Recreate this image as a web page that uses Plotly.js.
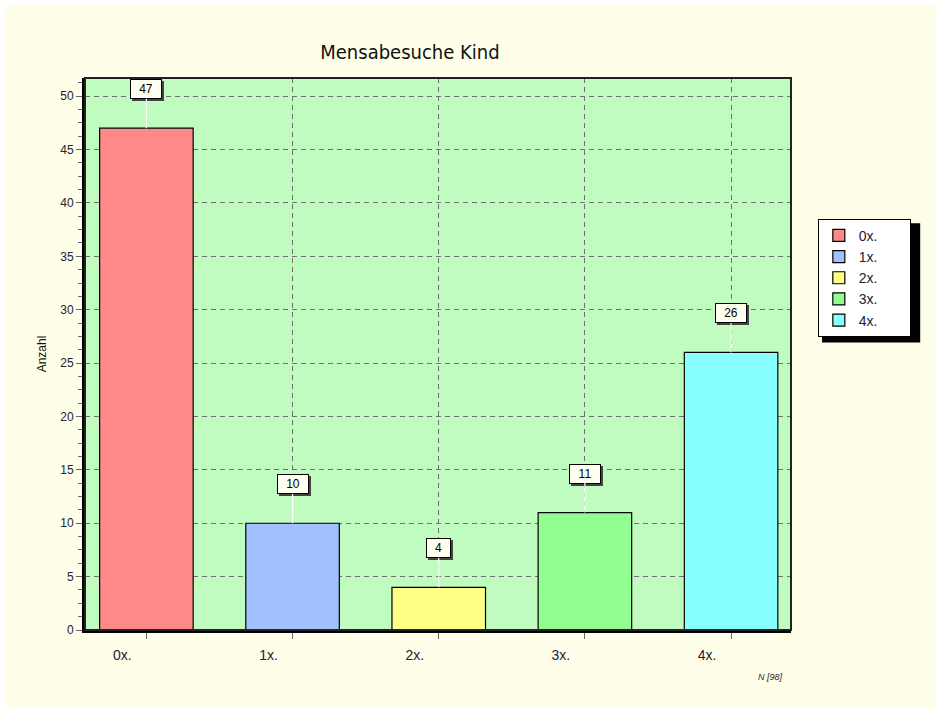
<!DOCTYPE html>
<html><head><meta charset="utf-8">
<script src="https://cdn.plot.ly/plotly-3.0.1.min.js"></script>
<style>
body{margin:0;background:#ffffff}
#bg{position:absolute;left:5px;top:5px;width:931px;height:703px;background:#fffee8}
#chart{position:absolute;left:0;top:0;width:936px;height:708px}
</style>
</head><body>
<div id="bg"></div>
<div id="chart"></div>
<script>
const categories = ["0x.", "1x.", "2x.", "3x.", "4x."];
const counts = [47, 10, 4, 11, 26];
const barColors = ["#ff8888", "#a0c0ff", "#ffff88", "#90ff90", "#88ffff"];
const chartTitle = "Mensabesuche Kind";
const yTitle = "Anzahl";
const footnote = "N [98]";

const pad = "\u00a0".repeat(7);
const traces = categories.map((c, i) => ({
  type: "bar", x: [c], y: [counts[i]], name: c + pad,
  marker: {color: barColors[i], line: {color: "#000", width: 1.2}},
  width: 0.64, hoverinfo: "none"
}));

const annotations = [];
categories.forEach((c, i) => {
  const t = String(counts[i]);
  const w = 7 * t.length + 12;
  annotations.push({x: c, y: counts[i], xref: "x", yref: "y", text: "\u00a0",
    showarrow: true, arrowhead: 0, arrowcolor: "rgba(0,0,0,0)", arrowwidth: 0.1, ax: 2, ay: -37,
    width: w, height: 14,
    bgcolor: "#444", bordercolor: "#444", borderwidth: 1, borderpad: 2,
    font: {family: "Liberation Sans, Arial", size: 12, color: "#444"}});
  annotations.push({x: c, y: counts[i], xref: "x", yref: "y", text: t,
    showarrow: true, arrowhead: 0, arrowcolor: "#ffffff", arrowwidth: 1.2, ax: 0, ay: -39,
    width: w, height: 14,
    bgcolor: "#fffff0", bordercolor: "#000", borderwidth: 1, borderpad: 2,
    font: {family: "Liberation Sans, Arial", size: 12, color: "#000"}});
});
annotations.push({xref: "paper", yref: "paper", x: 0.992, y: -0.085, xanchor: "right", yanchor: "middle",
  text: "<i>" + footnote + "</i>", showarrow: false,
  font: {family: "Liberation Sans, Arial", size: 9, color: "#223"}});

const layout = {
  width: 936, height: 708,
  paper_bgcolor: "rgba(0,0,0,0)", plot_bgcolor: "#c0fcc0",
  margin: {l: 85, r: 145, t: 78, b: 78},
  title: {text: chartTitle, x: 0.438, xanchor: "center", y: 0.926, yanchor: "middle",
    font: {family: "DejaVu Sans Condensed, DejaVu Sans", size: 20, color: "#111"}},
  showlegend: true,
  legend: {x: 1.038, xanchor: "left", y: 0.745, yanchor: "top",
    bgcolor: "#ffffff", bordercolor: "#000", borderwidth: 1,
    font: {family: "Liberation Sans, Arial", size: 14, color: "#223"},
    tracegroupgap: 0, itemwidth: 30},
  bargap: 0.36,
  xaxis: {type: "category", range: [-0.42, 4.41], showgrid: true, gridcolor: "#707070", griddash: "5px,4px", gridwidth: 1,
    showline: true, linecolor: "#000", linewidth: 3, ticks: "outside", ticklen: 6, tickcolor: "#666",
    ticklabelstandoff: 4, ticklabelshift: -24, zeroline: false,
    tickfont: {family: "Liberation Sans, Arial", size: 14, color: "#223"},
    minor: {dtick: 0.25, ticks: "outside", ticklen: 4, tickcolor: "#666", showgrid: false}},
  yaxis: {range: [0, 51.7], dtick: 5, showgrid: true, gridcolor: "#707070", griddash: "5px,4px", gridwidth: 1,
    showline: true, linecolor: "#000", linewidth: 3, ticks: "outside", ticklen: 6, tickcolor: "#666",
    zeroline: false,
    tickfont: {family: "Liberation Sans, Arial", size: 12, color: "#223"},
    title: {text: yTitle, standoff: 12, font: {family: "Liberation Sans, Arial", size: 12, color: "#111"}},
    minor: {dtick: 1.25, ticks: "outside", ticklen: 4, tickcolor: "#666", showgrid: false}},
  shapes: [
    {type: "rect", xref: "paper", yref: "paper", x0: 0, x1: 1, y0: 0, y1: 1, line: {color: "#222", width: 2}},
    {type: "rect", xref: "paper", yref: "paper", x0: 1.044, x1: 1.183, y0: 0.521, y1: 0.737,
      fillcolor: "#000", line: {width: 0}, layer: "below"}
  ],
  annotations: annotations
};
Plotly.newPlot("chart", traces, layout, {displayModeBar: false, staticPlot: true});
</script>
</body></html>
